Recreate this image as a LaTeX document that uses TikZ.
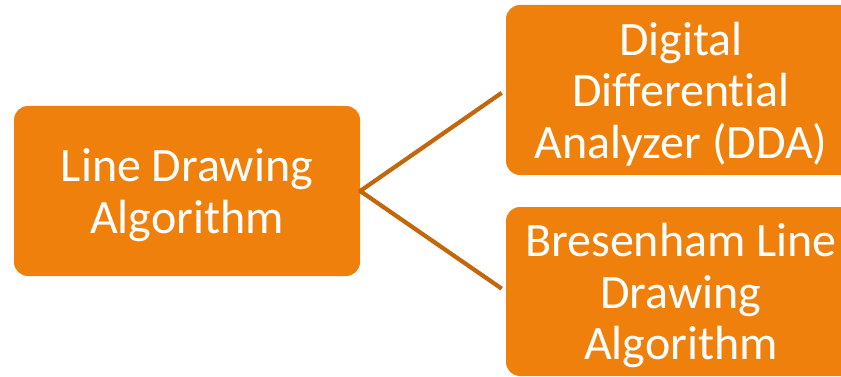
\documentclass[tikz,border=0pt]{standalone}
\usepackage{fontspec}
\setmainfont{Carlito}[Ligatures={NoCommon}]
\definecolor{boxorange}{HTML}{EF800C}
\definecolor{linebrown}{HTML}{C2670B}
\tikzset{
  box/.style={fill=boxorange, draw=none, rounded corners=14pt, text=white,
    align=center, inner sep=0pt, text depth=0pt,
    font=\fontsize{48}{51.5}\selectfont},
  link/.style={draw=linebrown, line width=4.2pt}
}
\begin{document}
\begin{tikzpicture}[x=1pt,y=-1pt]
\useasboundingbox (0,0) rectangle (841,377);
\clip (0,0) rectangle (841,377);
\node[box, minimum width=346pt, minimum height=170pt] (root) at (187,191) {Line Drawing\\Algorithm};
\node[box, minimum width=350pt, minimum height=170pt] (dda) at (681,90) {Digital\\Differential\\Analyzer (DDA)};
\node[box, minimum width=350pt, minimum height=169pt] (bres) at (681,291.5) {Bresenham Line\\Drawing\\Algorithm};
\draw[link, shorten <=-1pt, shorten >=5pt] (root.east) -- (dda.west);
\draw[link, shorten <=-1pt, shorten >=5pt] (root.east) -- (bres.west);
\end{tikzpicture}
\end{document}
